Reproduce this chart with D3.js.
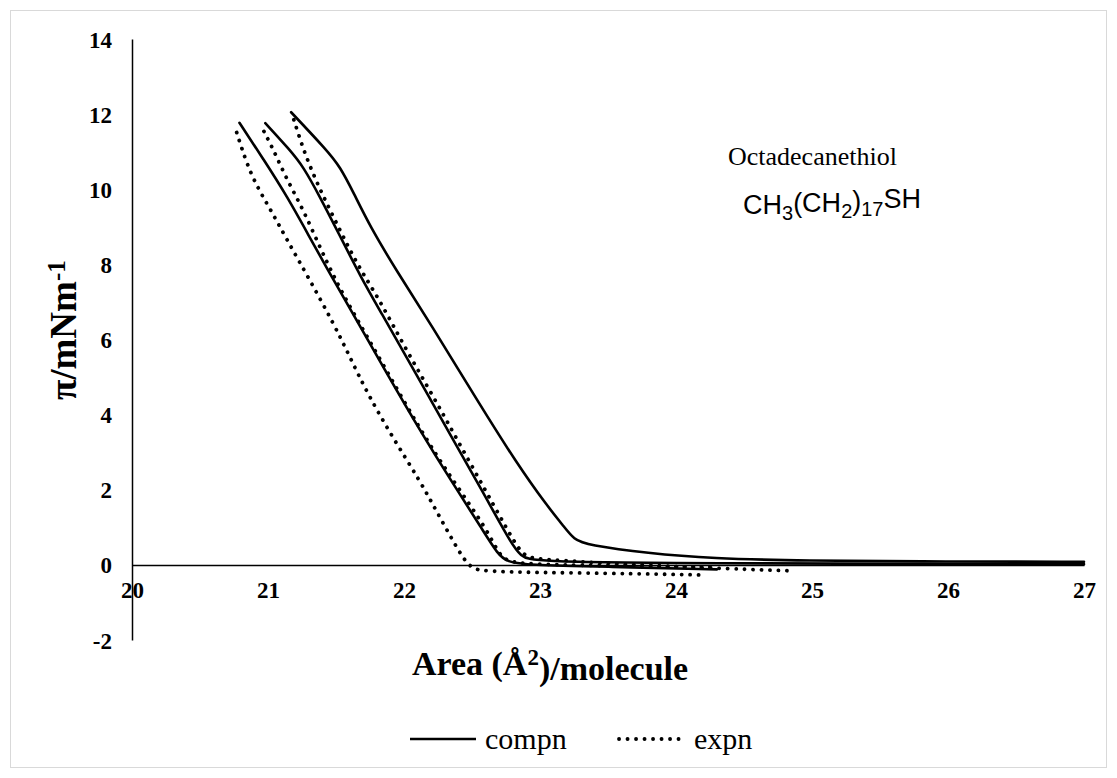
<!DOCTYPE html>
<html>
<head>
<meta charset="utf-8">
<script src="https://cdn.jsdelivr.net/npm/d3@7"></script>
<style>
  body { margin: 0; background: #fff; }
  svg text { font-family: "Times New Roman", "Liberation Serif", serif; fill: #000; }
  .tick text { font-size: 23px; font-weight: bold; }
  .note2 { font-family: Arial, "Liberation Sans", sans-serif !important; }
</style>
</head>
<body>
<svg id="chart" width="1117" height="778"></svg>
<script>
//Data: surface pressure isotherms, [area, pi]
const xTicks = [20, 21, 22, 23, 24, 25, 26, 27];
const yTicks = [-2, 0, 2, 4, 6, 8, 10, 12, 14];

// compression runs (solid)
const compn1 = [[20.79, 11.77], [20.97, 10.78], [21.14, 9.81], [21.29, 8.83], [21.46, 7.72], [21.63, 6.65],
  [21.87, 5.12], [22.13, 3.50], [22.34, 2.28], [22.58, 0.92], [22.69, 0.28], [22.76, 0.08], [22.9, 0.0],
  [23.5, -0.05], [24.3, -0.12]];
const compn2 = [[20.98, 11.76], [21.16, 11.05], [21.26, 10.60], [21.38, 9.81], [21.53, 8.75], [21.68, 7.68],
  [21.82, 6.79], [22.07, 5.20], [22.34, 3.47], [22.58, 1.94], [22.78, 0.62], [22.86, 0.22], [22.95, 0.09],
  [24.0, 0.04], [27.0, 0.02]];
const compn3 = [[21.17, 12.05], [21.43, 11.05], [21.53, 10.60], [21.63, 9.90], [21.75, 9.01], [21.95, 7.80],
  [22.19, 6.45], [22.56, 4.25], [22.83, 2.70], [23.05, 1.58], [23.17, 1.05], [23.25, 0.67], [23.35, 0.53],
  [23.79, 0.31], [24.27, 0.17], [24.91, 0.11], [26.0, 0.09], [27.0, 0.08]];

// expansion runs (dotted)
const expn1 = [[20.77, 11.51], [20.81, 11.05], [20.89, 10.25], [21.02, 9.45], [21.14, 8.65], [21.30, 7.63],
  [21.48, 6.44], [21.60, 5.55], [21.73, 4.57], [21.92, 3.37], [22.12, 2.22], [22.24, 1.42], [22.39, 0.44],
  [22.46, 0.05], [22.51, -0.09], [22.58, -0.19], [23.5, -0.22], [24.22, -0.27]];
const expn2 = [[20.97, 11.54], [21.04, 11.05], [21.14, 10.25], [21.26, 9.45], [21.38, 8.47], [21.49, 7.63],
  [21.60, 6.88], [21.86, 5.25], [22.12, 3.59], [22.36, 2.24], [22.61, 0.95], [22.70, 0.25], [22.78, 0.06],
  [23.0, 0.01], [23.6, -0.03], [24.27, -0.06]];
const expn3 = [[21.19, 11.85], [21.26, 11.05], [21.36, 10.16], [21.48, 9.27], [21.60, 8.39], [21.71, 7.68],
  [21.82, 7.05], [22.02, 5.70], [22.22, 4.45], [22.35, 3.60], [22.61, 1.91], [22.80, 0.67], [22.88, 0.24],
  [22.97, 0.16], [23.20, 0.11], [23.44, 0.05], [24.2, -0.08], [24.85, -0.16]];

const compSeries = [compn1, compn2, compn3];
const expSeries = [expn1, expn2, expn3];

const svg = d3.select('#chart');

// outer chart frame
svg.append('rect')
  .attr('x', 10.5).attr('y', 10.5).attr('width', 1096).attr('height', 757)
  .attr('fill', '#fff').attr('stroke', '#d9d9d9').attr('stroke-width', 1);

const x = d3.scaleLinear().domain([20, 27]).range([132, 1084]);
const y = d3.scaleLinear().domain([-2, 14]).range([640, 39]);

// axes (no tick marks, labels only)
const xAxis = svg.append('g')
  .attr('transform', `translate(0,${y(0)})`)
  .call(d3.axisBottom(x).tickValues(xTicks).tickSize(0).tickPadding(17).tickFormat(d => String(d)));
xAxis.select('.domain').attr('stroke', '#000').attr('stroke-width', 1.5);

const yAxis = svg.append('g')
  .attr('transform', `translate(${x(20)},0)`)
  .call(d3.axisLeft(y).tickValues(yTicks).tickSize(0).tickPadding(20).tickFormat(d => String(d)));
yAxis.select('.domain').attr('stroke', '#000').attr('stroke-width', 1.5);
yAxis.selectAll('.tick text').attr('dy', '0.35em');

const lineGen = d3.line().x(d => x(d[0])).y(d => y(d[1])).curve(d3.curveBasis);

// expansion (dotted) first, then compression on top
expSeries.forEach(s => {
  svg.append('path')
    .datum(s)
    .attr('d', lineGen)
    .attr('fill', 'none')
    .attr('stroke', '#000')
    .attr('stroke-width', 3.8)
    .attr('stroke-linecap', 'round')
    .attr('stroke-dasharray', '0.1 8.4');
});

compSeries.forEach(s => {
  svg.append('path')
    .datum(s)
    .attr('d', lineGen)
    .attr('fill', 'none')
    .attr('stroke', '#000')
    .attr('stroke-width', 2.6)
    .attr('stroke-linecap', 'round');
});

// axis titles
const yt = svg.append('text')
  .attr('transform', `translate(76,400) rotate(-90)`)
  .attr('text-anchor', 'start')
  .style('font-size', '37px').style('font-weight', 'bold');
yt.append('tspan').text('π/mNm');
yt.append('tspan').attr('dy', '-0.45em').style('font-size', '25px').text('-1');

const xt = svg.append('text')
  .attr('x', 550).attr('y', 675)
  .attr('text-anchor', 'middle')
  .style('font-size', '34px').style('font-weight', 'bold');
xt.append('tspan').text('Area (Å');
xt.append('tspan').attr('dy', '-0.42em').style('font-size', '23px').text('2');
xt.append('tspan').attr('dy', '0.42em').text(')/molecule');

// annotation
svg.append('text')
  .attr('x', 728).attr('y', 165)
  .style('font-size', '26px')
  .text('Octadecanethiol');

const f = svg.append('text')
  .attr('class', 'note2')
  .attr('x', 743).attr('y', 214)
  .style('font-size', '27px');
f.append('tspan').text('CH');
f.append('tspan').attr('dy', '0.3em').style('font-size', '20px').text('3');
f.append('tspan').attr('dy', '-0.3em').text('(CH');
f.append('tspan').attr('dy', '0.3em').style('font-size', '20px').text('2');
f.append('tspan').attr('dy', '-0.3em').text(')');
f.append('tspan').attr('dy', '0.3em').style('font-size', '20px').text('17');
f.append('tspan').attr('dy', '-0.3em').text('SH');

// legend
const legend = [
  { label: 'compn', x0: 410, dash: null, w: 2.6 },
  { label: 'expn', x0: 619, dash: '0.1 8.4', w: 3.8 }
];
legend.forEach(l => {
  svg.append('line')
    .attr('x1', l.x0).attr('x2', l.x0 + 66).attr('y1', 739).attr('y2', 739)
    .attr('stroke', '#000').attr('stroke-width', l.w)
    .attr('stroke-linecap', l.dash ? 'round' : 'butt')
    .attr('stroke-dasharray', l.dash);
  svg.append('text')
    .attr('x', l.x0 + 75).attr('y', 749)
    .style('font-size', '30px')
    .text(l.label);
});
</script>
</body>
</html>
